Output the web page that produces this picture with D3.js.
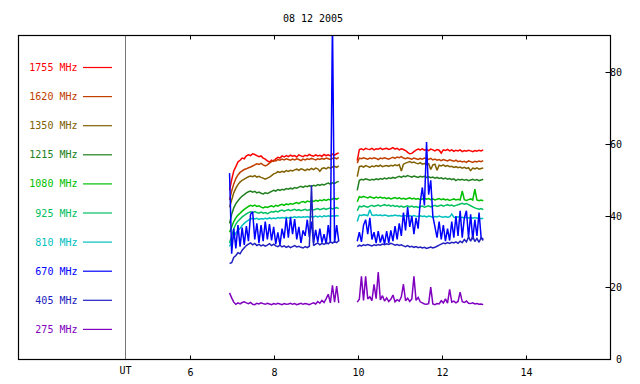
<!DOCTYPE html>
<html><head><meta charset="utf-8">
<script src="https://cdn.jsdelivr.net/npm/d3@7"></script>
<style>
body{margin:0;background:#fff}
svg{display:block}
text{font-family:"DejaVu Sans Mono",monospace;font-size:10px}
</style>
</head><body><svg id="c" width="640" height="384"></svg>
<script>
const title = "08 12 2005";
const freqs = ["1755 MHz","1620 MHz","1350 MHz","1215 MHz","1080 MHz","925 MHz","810 MHz","670 MHz","405 MHz","275 MHz"];
const colors = ["#ff0000","#c04000","#806000","#208020","#00c000","#00c060","#00c0c0","#0000ff","#2020c0","#8000c0"];
const xTicks = [6,8,10,12,14];
const yTicks = [0,20,40,60,80];
const utLabel = "UT";
const seg1Start = 6.93, seg2Start = 9.97, sampleStep = 0.05;

const s1755a=[47.2,50.1,52.6,53.8,55.1,55.6,56.2,56.0,56.8,57.1,56.9,57.4,57.2,56.9,56.6,56.8,56.2,55.9,55.4,55.1,55.6,55.3,56.0,56.4,56.2,56.8,56.5,56.9,56.6,57.0,56.7,56.9,56.5,57.1,56.8,56.6,57.0,56.8,57.2,56.9,56.7,57.1,56.8,57.0,56.7,57.2,56.9,57.1,56.8,57.3,57.0,57.4,57.6];
const s1755b=[55.5,58.6,58.8,58.5,58.9,58.7,58.6,58.9,58.5,58.8,58.7,59.0,58.6,58.8,58.9,58.6,58.8,59.1,58.7,58.9,58.5,58.8,58.6,58.3,57.8,57.4,57.5,58.0,58.4,58.7,58.5,58.8,58.4,58.6,58.3,58.7,58.5,58.2,58.6,58.4,57.6,58.5,58.3,58.6,58.2,58.5,58.1,58.4,58.2,58.5,58.0,58.3,58.1,58.4,58.2,58.0,58.3,58.1,58.4,58.2,58.5];
const s1620a=[44.5,47.0,49.0,50.5,51.5,52.2,52.6,53.0,53.2,53.5,53.7,54.0,54.3,54.6,54.4,54.7,54.3,54.0,54.3,54.8,55.2,55.6,55.4,55.8,55.6,55.9,55.7,56.0,55.8,55.6,55.9,55.7,56.0,55.8,55.5,55.9,55.7,56.0,55.8,56.1,55.9,55.7,56.0,55.8,56.1,55.9,56.2,56.0,55.8,56.1,56.3,56.0,56.4];
const s1620b=[54.8,56.2,56.0,56.3,56.1,55.9,56.2,56.0,56.3,56.1,55.8,56.2,56.0,56.3,56.1,55.9,56.2,56.4,56.1,56.5,56.3,56.6,56.2,56.0,56.3,56.1,55.9,56.2,56.0,55.8,56.1,55.9,56.2,56.0,55.8,56.1,55.7,55.9,55.6,55.8,55.5,55.8,55.6,55.4,55.7,55.5,55.3,55.6,55.2,55.4,55.1,55.3,55.0,55.4,55.2,55.0,55.3,55.1,55.4,55.2,55.5];
const s1350a=[42.5,44.5,46.5,47.8,48.8,49.5,50.0,50.3,50.7,51.0,51.2,51.0,51.3,50.9,51.1,50.8,50.6,50.3,50.6,50.9,51.3,51.8,52.0,52.4,52.2,52.5,52.3,52.7,52.5,52.8,52.6,52.9,53.1,52.8,53.2,53.0,52.7,53.1,52.9,53.3,53.0,53.4,53.2,52.5,53.3,53.5,53.2,53.6,53.4,53.7,53.9,53.6,54.0];
const s1350b=[51.0,53.8,54.0,53.7,54.1,53.9,53.6,54.0,53.8,54.1,53.9,54.2,53.8,54.0,54.1,53.9,54.2,54.0,54.3,54.1,54.4,52.6,54.5,54.8,55.0,55.2,54.9,55.1,54.8,54.6,54.9,54.5,54.7,54.4,54.6,53.0,54.3,54.5,52.8,54.2,54.0,54.3,53.9,54.1,53.8,53.9,53.6,53.8,53.5,53.7,53.4,53.6,53.3,53.5,52.7,53.4,53.2,53.5,53.1,53.3,53.4];
const s1215a=[38.0,40.5,42.3,43.5,44.3,45.0,45.6,46.0,46.5,46.8,47.0,46.7,46.9,46.5,46.7,46.4,46.2,46.5,46.3,46.6,46.9,47.2,47.0,47.4,47.2,47.5,47.3,47.7,47.5,47.8,47.6,48.0,47.8,48.1,48.3,48.0,48.4,48.2,48.5,48.3,48.6,48.4,48.8,48.6,48.9,48.7,49.0,49.2,48.9,49.3,49.1,49.5,49.7];
const s1215b=[47.2,50.0,50.3,50.1,50.4,50.2,50.0,50.3,50.1,50.4,50.2,50.5,50.3,50.6,50.4,50.7,50.5,50.8,50.6,50.9,51.1,50.8,51.2,51.0,51.3,51.1,50.9,51.2,51.0,50.8,51.1,50.9,51.1,50.8,51.0,50.7,50.9,50.6,50.8,50.5,50.7,50.4,50.6,50.3,50.5,50.2,50.4,49.9,50.3,50.1,50.3,50.0,50.2,49.9,50.1,50.3,50.0,50.2,49.9,50.1,50.3];
const s1080a=[35.5,37.0,38.5,39.5,40.3,40.8,41.4,41.9,42.3,42.7,43.0,42.8,43.1,42.7,42.9,42.5,42.3,42.6,42.4,42.7,42.9,42.6,43.0,42.8,43.1,43.3,43.0,43.4,43.2,43.5,43.3,43.6,43.8,43.5,43.9,44.1,43.8,44.2,44.0,44.3,44.1,44.4,44.2,44.5,44.3,44.6,44.4,44.7,44.5,44.8,45.0,44.7,45.1];
const s1080b=[44.0,45.4,45.2,45.5,45.3,45.1,45.4,45.2,45.0,45.3,45.1,45.3,45.0,45.2,44.9,45.1,44.8,45.0,45.2,44.9,45.1,44.8,45.0,44.7,44.9,45.1,44.8,45.0,44.7,44.9,44.6,44.8,45.0,44.7,44.9,44.6,44.8,44.5,44.7,44.9,44.6,44.8,44.5,44.7,44.4,44.6,44.8,44.5,44.7,44.5,47.0,44.6,44.4,44.6,44.8,44.5,47.5,44.5,44.3,44.5,44.3];
const s925a=[32.5,34.5,36.5,37.8,38.6,39.2,39.8,40.2,40.6,41.0,41.2,41.0,41.3,41.0,40.8,41.1,40.8,41.0,40.7,41.0,41.3,41.1,41.4,41.2,41.5,41.7,41.4,41.6,41.8,41.5,41.7,41.9,41.6,41.8,41.5,41.7,41.9,41.6,41.8,42.0,41.7,41.9,42.1,41.8,42.0,42.2,41.9,42.1,42.3,42.0,42.2,42.4,42.1];
const s925b=[41.5,42.8,42.6,42.9,42.7,42.5,42.8,43.0,42.7,42.9,43.1,42.8,43.0,43.2,42.9,43.1,42.8,43.0,42.7,42.9,42.6,42.8,42.5,42.7,42.9,42.6,42.8,42.5,42.7,42.4,42.6,42.8,42.5,42.7,42.9,42.6,42.8,43.0,42.7,42.9,43.1,42.8,43.0,43.2,42.9,43.1,42.8,43.0,43.2,43.4,43.6,43.3,43.5,43.2,42.9,42.6,42.3,42.1,41.9,42.1,41.8];
const s810a=[31.5,33.0,34.2,35.3,36.0,36.6,37.4,38.0,38.5,38.9,39.2,39.4,39.2,39.4,39.1,39.3,39.2,39.4,39.2,39.5,39.3,39.5,39.3,39.6,39.4,39.6,39.5,39.7,39.5,39.7,39.6,39.8,39.6,39.8,39.6,39.8,39.7,39.9,39.7,39.9,39.8,40.0,39.8,40.0,39.8,40.1,39.9,40.1,39.9,40.1,40.0,40.2,40.0];
const s810b=[38.5,40.3,40.2,40.4,40.3,40.1,41.8,40.3,40.2,40.4,40.2,40.3,40.1,40.3,40.2,40.0,40.2,40.1,40.3,40.1,40.2,40.0,40.2,40.1,39.9,40.1,40.0,40.2,40.0,39.9,40.1,39.9,40.0,39.8,40.0,39.9,39.7,39.9,39.8,40.0,39.8,39.7,39.9,39.7,39.8,40.6,39.7,39.6,39.8,39.6,39.7,39.5,39.7,39.5,39.6,39.4,39.6,39.4,39.5,39.3,39.4];
const s670a=[52.0,29.5,36.5,31.0,37.5,31.5,36.8,32.0,37.2,33.0,40.5,41.2,33.5,38.0,32.5,37.5,33.0,38.5,33.5,37.8,33.2,37.0,32.2,35.5,32.0,36.5,33.8,39.5,34.0,39.7,35.0,39.2,33.5,37.0,32.5,36.0,34.5,39.0,34.2,38.5,32.5,36.2,32.8,36.5,32.6,35.0,32.2,37.5,32.8,95.0,32.5,37.5,33.0];
const s670b=[33.0,35.5,32.8,37.5,39.0,35.0,39.5,33.5,35.5,32.5,35.8,32.6,34.8,32.2,35.8,32.5,36.0,33.0,37.2,33.5,38.0,34.5,41.0,36.0,42.5,37.0,40.0,35.0,39.5,36.5,44.0,48.0,43.0,60.7,46.0,50.0,40.0,37.0,34.0,38.5,33.5,37.5,33.0,36.5,33.2,38.5,34.0,40.0,34.5,41.5,34.0,39.5,41.5,34.0,40.5,33.5,39.0,34.5,41.0,34.0,33.5];
const s405a=[26.8,27.0,28.5,29.0,29.8,29.5,30.5,31.2,31.8,32.2,32.5,32.0,32.4,31.8,32.1,31.7,32.0,31.6,31.9,32.3,31.8,32.2,31.7,31.5,31.9,31.4,31.7,31.3,31.6,31.2,31.5,31.8,31.4,31.6,31.3,31.1,31.5,31.2,31.6,48.6,31.8,32.2,32.5,32.0,32.4,32.1,32.6,32.3,32.8,32.5,32.9,32.6,33.2];
const s405b=[31.5,31.9,31.7,32.0,31.8,32.1,31.9,31.7,32.0,31.8,32.1,31.9,32.2,32.0,32.3,32.1,32.4,32.2,31.9,32.1,31.8,32.0,31.7,31.5,31.8,31.4,31.6,31.3,31.5,31.2,31.4,31.1,31.3,31.0,31.2,31.4,31.1,31.3,31.6,31.9,32.2,32.5,32.3,32.6,32.4,32.7,32.5,32.8,32.4,33.0,32.6,33.5,32.8,34.2,33.0,34.4,32.9,33.8,32.7,34.0,33.2];
const s275a=[18.6,17.2,16.0,15.4,15.8,15.5,15.9,16.1,15.8,15.6,15.9,15.4,15.3,15.7,15.5,15.8,15.6,15.4,15.7,15.5,15.3,15.6,15.4,15.7,15.5,15.3,15.6,15.4,15.5,15.7,15.4,15.6,15.3,15.5,15.7,15.4,15.6,15.5,15.3,15.6,15.8,15.5,16.2,15.7,16.5,15.9,17.0,18.2,15.8,20.7,16.0,20.5,15.8];
const s275b=[16.0,16.8,23.2,16.5,23.2,16.9,17.5,16.4,21.0,17.0,24.4,16.6,17.8,16.3,17.2,16.2,16.8,18.0,16.1,16.7,16.3,17.5,21.0,16.4,17.1,16.2,16.9,23.2,16.5,17.3,16.1,15.8,15.5,15.4,15.6,20.2,15.5,15.3,15.6,15.5,16.4,15.8,16.9,15.7,19.6,16.0,16.3,15.8,16.2,18.8,16.1,15.9,16.3,15.7,15.6,15.8,15.5,15.6,15.4,15.5,15.3];

const seriesA=[s1755a,s1620a,s1350a,s1215a,s1080a,s925a,s810a,s670a,s405a,s275a];
const seriesB=[s1755b,s1620b,s1350b,s1215b,s1080b,s925b,s810b,s670b,s405b,s275b];

const svg=d3.select("#c");
const L=18.5,R=610.5,T=35.5,B=359.5;
const x=d3.scaleLinear().domain([6,16]).range([190.5,610.5]);
const y=d3.scaleLinear().domain([0,90.4]).range([359.5,35.5]);

svg.append("defs").append("clipPath").attr("id","clip").append("rect")
  .attr("x",L).attr("y",T).attr("width",R-L).attr("height",B-T);

svg.append("text").attr("x",313).attr("y",22).attr("text-anchor","middle").attr("fill","#000").text(title);

const line=d3.line().x(d=>x(d[0])).y(d=>y(d[1]));
const g=svg.append("g").attr("clip-path","url(#clip)");
freqs.forEach((f,k)=>{
  [[seg1Start,seriesA[k]],[seg2Start,seriesB[k]]].forEach(([t0,vals])=>{
    const pts=vals.map((v,i)=>[t0+i*sampleStep,v]);
    g.append("path").attr("d",line(pts)).attr("fill","none")
     .attr("stroke",colors[k]).attr("stroke-width",1.5).attr("stroke-linejoin","miter").attr("stroke-miterlimit",2);
  });
});

// UT line
svg.append("line").attr("x1",125.5).attr("x2",125.5).attr("y1",T).attr("y2",B).attr("stroke","#777").attr("stroke-width",1);
svg.append("text").attr("x",125.5).attr("y",374).attr("text-anchor","middle").text(utLabel);

// frame
svg.append("rect").attr("x",L).attr("y",T).attr("width",R-L).attr("height",B-T)
  .attr("fill","none").attr("stroke","#000").attr("stroke-width",1.2);

// x ticks bottom & top
const xb=svg.append("g");
xTicks.forEach(t=>{
  xb.append("line").attr("x1",x(t)).attr("x2",x(t)).attr("y1",B).attr("y2",B-4).attr("stroke","#000");
  xb.append("line").attr("x1",x(t)).attr("x2",x(t)).attr("y1",T).attr("y2",T+4).attr("stroke","#000");
  xb.append("text").attr("x",x(t)).attr("y",376).attr("text-anchor","middle").attr("fill","#000").text(t);
});
// y ticks right
const ya=svg.append("g");
yTicks.forEach(v=>{
  ya.append("line").attr("x1",R-5).attr("x2",R).attr("y1",Math.round(y(v)-0.5)+0.5).attr("y2",Math.round(y(v)-0.5)+0.5).attr("stroke","#000");
  ya.append("text").attr("x",622).attr("y",y(v)+3.5).attr("text-anchor","end").attr("fill","#000").text(v);
});

// legend
freqs.forEach((f,k)=>{
  const ly=67.5+k*29.1;
  svg.append("text").attr("x",77.5).attr("y",ly+3.5).attr("text-anchor","end").attr("fill",colors[k]).text(f);
  svg.append("line").attr("x1",83).attr("x2",112).attr("y1",ly).attr("y2",ly).attr("stroke",colors[k]).attr("stroke-width",1.2);
});
</script></body></html>
